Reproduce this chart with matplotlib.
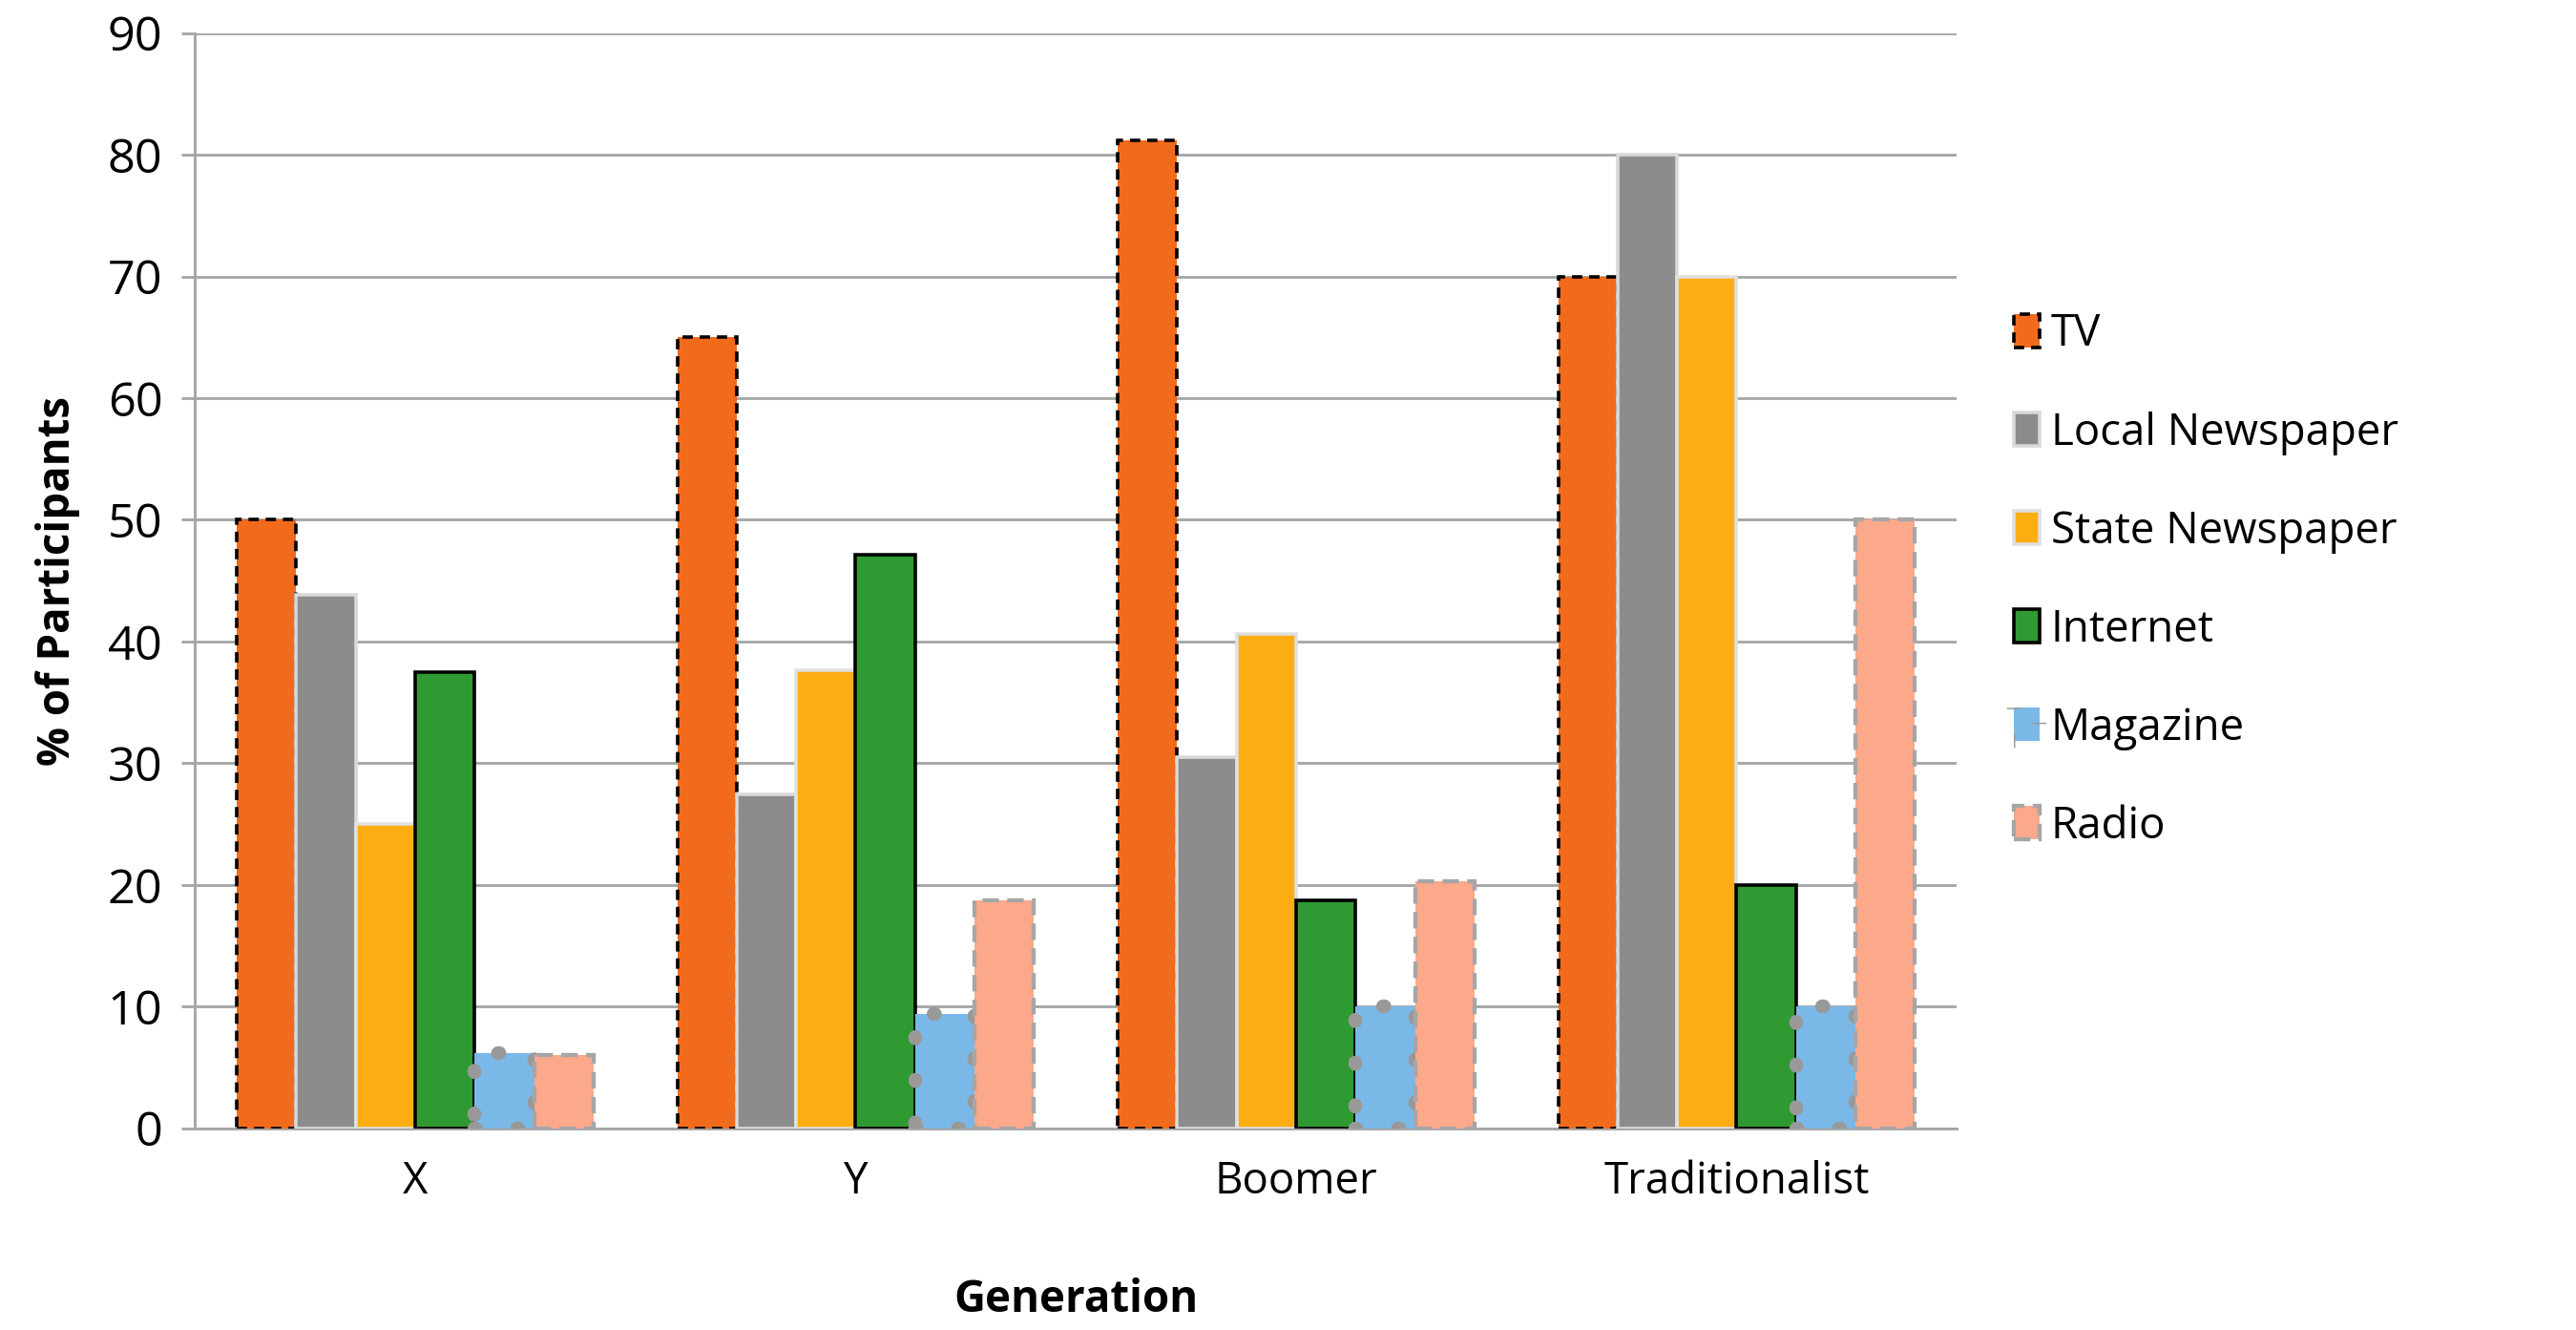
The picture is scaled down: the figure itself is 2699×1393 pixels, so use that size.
import matplotlib
matplotlib.use("Agg")
import matplotlib.pyplot as plt
import numpy as np

categories = ["X", "Y", "Boomer", "Traditionalist"]
series = ["TV", "Local Newspaper", "State Newspaper", "Internet", "Magazine", "Radio"]
tv = [50, 65, 81.2, 70]
local = [43.8, 27.4, 30.5, 80]
state = [25, 37.6, 40.6, 70]
internet = [37.5, 47.1, 18.7, 20]
magazine = [6.2, 9.4, 10, 10]
radio = [6, 18.7, 20.3, 50]
values = [tv, local, state, internet, magazine, radio]

faces = ["#f26a1b", "#8c8c8c", "#fbad12", "#2f9a31", "#7ab8e8", "#fca88a"]
edges = ["black", "#d9d9d9", "#e0e0e0", "black", "#999999", "#a6a6a6"]
styles = [(0, (3, 2)), "solid", "solid", "solid", (0, (0.1, 3)), (0, (4, 2))]
lws = [1.5, 1.5, 1.5, 1.5, 6, 1.8]

DPI = 173
W, H = 2699 / DPI, 1393 / DPI
plt.rcParams["font.family"] = "Open Sans"
fig = plt.figure(figsize=(W, H), dpi=DPI)
# positions in 1560-wide reference coordinates
SW, SH = 1560, 1393 * 1560 / 2699
ax = fig.add_axes([118 / SW, 1 - 683 / SH, (1185 - 118) / SW, (683 - 20) / SH])

x = np.arange(len(categories))
w = 0.135
for i, (s, v) in enumerate(zip(series, values)):
    off = (i - 2.5) * w
    b = ax.bar(x + off, v, w, color=faces[i], edgecolor=edges[i], linewidth=lws[i],
               linestyle=styles[i], label=s, zorder=3)
    if i == 4:
        for r in b:
            r.set_capstyle("round")

ax.set_xlim(-0.5, 3.5)
ax.set_ylim(0, 90)
ax.set_yticks(range(0, 91, 10))
ax.yaxis.grid(True, color="#a6a6a6", linewidth=1.2, zorder=0)
ax.set_xticks(x)
ax.set_xticklabels(categories)
ax.tick_params(axis="x", labelsize=19, length=0, pad=14)
ax.tick_params(axis="y", labelsize=21, length=6, color="#a6a6a6", width=1.2, pad=8)
for sp in ["top", "right"]:
    ax.spines[sp].set_visible(False)
for sp in ["left", "bottom"]:
    ax.spines[sp].set_color("#a6a6a6")
    ax.spines[sp].set_linewidth(1.2)
ax.set_ylabel("% of Participants", fontsize=19, fontweight="bold", labelpad=12)
ax.set_xlabel("Generation", fontsize=19, fontweight="bold", labelpad=32)

leg = ax.legend(loc="center left", bbox_to_anchor=(1.01, 0.5), frameon=False,
                fontsize=19, labelspacing=1.25, handlelength=0.6, handleheight=0.8,
                handletextpad=0.25)
fig.savefig("out.png", dpi=DPI)
